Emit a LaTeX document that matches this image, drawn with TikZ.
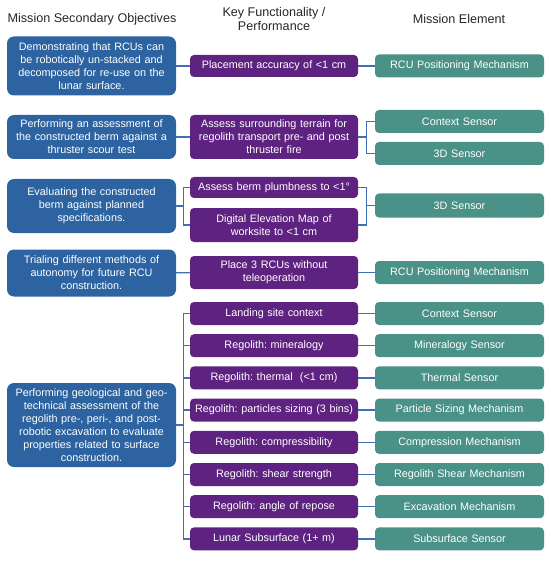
\documentclass[tikz,border=0pt]{standalone}
\usepackage{fontspec}
\setmainfont{Liberation Sans}
\usetikzlibrary{calc}
\definecolor{objblue}{HTML}{2C63A0}
\definecolor{keypurple}{HTML}{5E2380}
\definecolor{elmteal}{HTML}{4A9187}
\definecolor{linkblue}{HTML}{3F6FB5}
\frenchspacing

\begin{document}
\begin{tikzpicture}[x=1pt,y=-1pt]
    \tikzset{box/.style={rounded corners=4pt, text=white, align=center, inner sep=1pt,
        font=\fontsize{10.8}{13}\selectfont},
      obj/.style={box, fill=objblue, rounded corners=7pt, text width=167pt, minimum height=#1},
      key/.style={box, fill=keypurple, text width=166pt, minimum height=#1},
      elm/.style={box, fill=elmteal, text width=167pt, minimum height=#1},
      obj/.default=22pt, key/.default=22pt, elm/.default=23pt,
      link/.style={draw=linkblue, line width=1.4pt},
      head/.style={font=\fontsize{12.6}{14}\selectfont, text=black!85, align=center}}
\useasboundingbox (0,0) rectangle (550,561);
% column titles
\node[head] (hobj) at (92,19) {Mission Secondary Objectives};
\node[head] (hkey) at (274,19) {Key Functionality /\\Performance};
\node[head] (helm) at (459,19) {Mission Element};
% RCU re-use
\node[obj=59pt] (obj1) at (91.5,66) {Demonstrating that RCUs can\\be robotically un-stacked and\\decomposed for re-use on the\\lunar surface.};
\node[key] (key1) at (274,66) {Placement accuracy of <1 cm};
\node[elm] (elm1) at (459.5,66) {RCU Positioning Mechanism};
\draw[link] (obj1) -- (key1);
\draw[link] (key1) -- (elm1);
% thruster scour
\node[obj=44pt] (obj2) at (91.5,137) {Performing an assessment of\\the constructed berm against a\\thruster scour test};
\node[key=44pt] (key2) at (274,137) {Assess surrounding terrain for\\regolith transport pre- and post\\thruster fire};
\node[elm] (elm2a) at (459.5,121.5) {Context Sensor};
\node[elm] (elm2b) at (459.5,153.5) {3D Sensor};
\draw[link] (obj2) -- (key2);
\draw[link] (key2.east) -- ++(8,0) |- (elm2a.west);
\draw[link] (key2.east) -- ++(8,0) |- (elm2b.west);
% berm specifications
\node[obj=54pt] (obj3) at (91.5,206) {Evaluating the constructed\\berm against planned\\specifications.};
\node[key=21pt] (key3a) at (274,187.5) {Assess berm plumbness to <1°};
\node[key=34pt] (key3b) at (274,225) {Digital Elevation Map of\\worksite to <1 cm};
\node[elm=24pt] (elm3) at (459.5,205.5) {3D Sensor};
\draw[link] (obj3.east) -- ++(7,0) |- (key3a.west);
\draw[link] (obj3.east) -- ++(7,0) |- (key3b.west);
\draw[link] (key3a.east) -- ++(8,0) |- (elm3.west);
\draw[link] (key3b.east) -- ++(8,0) |- (elm3.west);
% autonomy
\node[obj=47pt] (obj4) at (91.5,273) {Trialing different methods of\\autonomy for future RCU\\construction.};
\node[key=33pt] (key4) at (274,272.5) {Place 3 RCUs without\\teleoperation};
\node[elm] (elm4) at (459.5,272.5) {RCU Positioning Mechanism};
\draw[link] (obj4) -- (key4);
\draw[link] (key4) -- (elm4);
% geotechnical assessment
\node[obj=84pt] (obj5) at (91.5,425) {Performing geological and geo-\\technical assessment of the\\regolith pre-, peri-, and post-\\robotic excavation to evaluate\\properties related to surface\\construction.};
\foreach \i/\reg/\sen in {1/Landing site context/Context Sensor,
    2/Regolith: mineralogy/Mineralogy Sensor,
    3/Regolith: thermal~ (<1 cm)/Thermal Sensor,
    4/Regolith: particles sizing (3 bins)/Particle Sizing Mechanism,
    5/Regolith: compressibility/Compression Mechanism,
    6/Regolith: shear strength/Regolith Shear Mechanism,
    7/Regolith: angle of repose/Excavation Mechanism,
    8/Lunar Subsurface (1+ m)/Subsurface Sensor}{
  \pgfmathsetmacro{\ry}{313.5+32.2*(\i-1)}
  \node[key=23pt] (reg\i) at (274,\ry) {\reg};
  \node[elm] (sen\i) at (459.5,\ry) {\sen};
  \draw[link] (obj5.east) -- ++(7,0) |- (reg\i.west);
  \draw[link] (reg\i) -- (sen\i);
}
\end{tikzpicture}
\end{document}
